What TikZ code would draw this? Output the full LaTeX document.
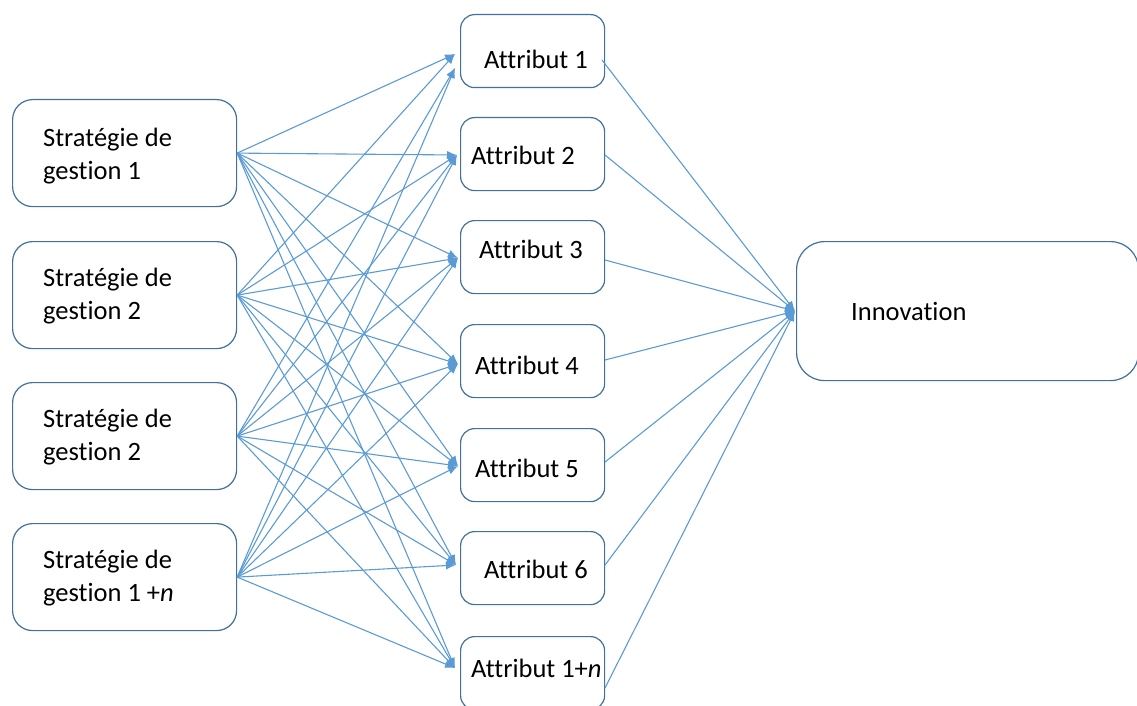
\documentclass[tikz,border=0pt]{standalone}
\usepackage{fontspec}
\setmainfont{Carlito}[Ligatures=NoCommon]
\usetikzlibrary{arrows.meta}
\definecolor{boxline}{HTML}{41719C}
\definecolor{linkc}{HTML}{5B9BD5}
\begin{document}
\begin{tikzpicture}[x=1pt,y=-1pt,
  box/.style={draw=boxline, line width=1.2pt, fill=white, inner sep=0pt, anchor=north west},
  strat/.style={box, minimum width=224pt, minimum height=107pt, rounded corners=20pt},
  attr/.style={box, minimum width=144pt, minimum height=73pt, rounded corners=14pt},
  innov/.style={box, minimum width=342pt, minimum height=139pt, rounded corners=28pt},
  txt/.style={anchor=west, inner sep=0pt, font=\fontsize{26.5}{33}\selectfont, align=left},
  link/.style={draw=linkc, line width=1.1pt, -{Latex[length=10pt,width=8pt]}}]
\useasboundingbox (0,0) rectangle (1137,706);
\clip (0,0) rectangle (1137,706);

% strategy boxes
\node[strat] (s1) at (12,99) {};
\node[strat] (s2) at (12,241) {};
\node[strat] (s3) at (12,382) {};
\node[strat] (s4) at (12,523) {};
\node[txt] (t1) at (43,156) {Stratégie de\\gestion 1};
\node[txt] (t2) at (43,296) {Stratégie de\\gestion 2};
\node[txt] (t3) at (43,437) {Stratégie de\\gestion 2};
\node[txt] (t4) at (43,578) {Stratégie de\\gestion 1 +\textit{n}};

% attribute boxes
\node[attr] (a1) at (460,14) {};
\node[attr] (a2) at (460,117) {};
\node[attr] (a3) at (460,220) {};
\node[attr] (a4) at (460,324) {};
\node[attr] (a5) at (460,428) {};
\node[attr] (a6) at (460,531) {};
\node[attr] (a7) at (460,636) {};
\node[txt] (l1) at (484,59) {Attribut 1};
\node[txt] (l2) at (471,155) {Attribut 2};
\node[txt] (l3) at (479,249) {Attribut 3};
\node[txt] (l4) at (475,365) {Attribut 4};
\node[txt] (l5) at (475,468) {Attribut 5};
\node[txt] (l6) at (484,569) {Attribut 6};
\node[txt] (l7) at (471,668) {Attribut 1+\textit{n}};

% outcome box
\node[innov] (inn) at (796,241) {};
\node[txt] (li) at (851,311) {Innovation};

% arrival points on the attribute boxes
\coordinate (in1a) at (455,54);
\coordinate (in1b) at (455,68);
\coordinate (in2) at (457,155);
\coordinate (in3) at (458,258);
\coordinate (in4) at (458,364);
\coordinate (in5) at (458,466);
\coordinate (in6) at (456,565);
\coordinate (in7) at (455,668);

% departure points on the attribute boxes
\coordinate (out1) at (602,60);
\coordinate (out2) at (605,155);
\coordinate (out3) at (605,260);
\coordinate (out4) at (605,360);
\coordinate (out5) at (605,462);
\coordinate (out6) at (605,565);
\coordinate (out7) at (605,688);

% every strategy feeds every attribute
\foreach \s in {s1,s2} \draw[link] (\s.east) -- (in1a);
\foreach \s in {s3,s4} \draw[link] (\s.east) -- (in1b);
\foreach \s in {s1,s2,s3,s4}
  \foreach \t in {in2,in3,in4,in5,in6,in7}
    \draw[link] (\s.east) -- (\t);

% every attribute feeds innovation
\foreach \o in {out1,out2,out3,out4,out5,out6,out7}
  \draw[link] (\o) -- ([xshift=-1pt]inn.west);
\end{tikzpicture}
\end{document}
